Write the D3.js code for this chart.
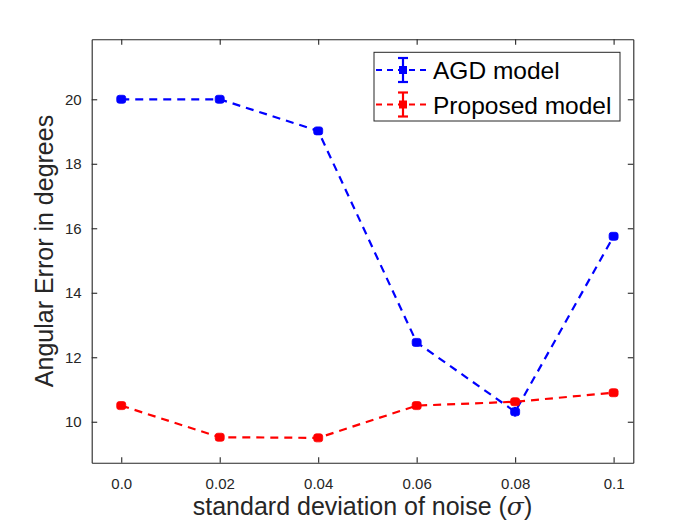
<!DOCTYPE html>
<html><head><meta charset="utf-8">
<script src="https://cdn.jsdelivr.net/npm/d3@7/dist/d3.min.js"></script>
<style>body{margin:0;background:#fff;} svg{display:block;}</style>
</head><body>
<script>
const noise = [0.0, 0.02, 0.04, 0.06, 0.08, 0.1];
const xTickLabels = ["0.0", "0.02", "0.04", "0.06", "0.08", "0.1"];
const yTicks = [10, 12, 14, 16, 18, 20];
const agd = [20.0, 20.0, 19.02, 12.46, 10.31, 15.75];
const agdErr = [0.05, 0.05, 0.05, 0.05, 0.15, 0.05];
const proposed = [10.5, 9.52, 9.5, 10.5, 10.62, 10.9];
const proposedErr = [0.05, 0.05, 0.05, 0.05, 0.05, 0.05];
const seriesNames = ["AGD model", "Proposed model"];
const seriesColors = ["#0000ff", "#ff0000"];

const W = 700, H = 525;
const m = {left: 91.7, right: 700 - 633.3, top: 39.3, bottom: 525 - 462.7};
const svg = d3.select("body").append("svg").attr("width", W).attr("height", H);
const x = d3.scaleLinear().domain([-0.006, 0.104]).range([m.left, W - m.right]);
const y = d3.scaleLinear().domain([8.73, 21.86]).range([H - m.bottom, m.top]);
const axisColor = "#262626";
const font = "'Liberation Sans', Arial, Helvetica, sans-serif";

// axes (ticks inward, mirrored box)
const tl = 5.5;
const gx = svg.append("g").attr("transform", `translate(0,${H - m.bottom})`)
  .call(d3.axisBottom(x).tickValues(noise).tickFormat((d, i) => xTickLabels[i]).tickSizeInner(-tl).tickSizeOuter(0).tickPadding(15.5));
const gxt = svg.append("g").attr("transform", `translate(0,${m.top})`)
  .call(d3.axisTop(x).tickValues(noise).tickFormat("").tickSizeInner(-tl).tickSizeOuter(0));
const gy = svg.append("g").attr("transform", `translate(${m.left},0)`)
  .call(d3.axisLeft(y).tickValues(yTicks).tickSizeInner(-tl).tickSizeOuter(0).tickPadding(10));
const gyr = svg.append("g").attr("transform", `translate(${W - m.right},0)`)
  .call(d3.axisRight(y).tickValues(yTicks).tickFormat("").tickSizeInner(-tl).tickSizeOuter(0));
[gx, gxt, gy, gyr].forEach(g => {
  g.attr("font-size", null).attr("font-family", null);
  g.select(".domain").attr("stroke", axisColor).attr("stroke-width", 1.1);
  g.selectAll(".tick line").attr("stroke", axisColor).attr("stroke-width", 1.1);
  g.selectAll(".tick text").attr("fill", axisColor).style("font-family", font).style("font-size", "15px");
});

// series
const series = [
  {vals: agd, err: agdErr},
  {vals: proposed, err: proposedErr}
];
const line = d3.line().x(d => x(d[0])).y(d => y(d[1]));
series.forEach((s, si) => {
  const pts = noise.map((n, i) => [n, s.vals[i], s.err[i]]);
  const col = seriesColors[si];
  const g = svg.append("g");
  g.append("path").datum(pts).attr("d", line).attr("fill", "none")
    .attr("stroke", col).attr("stroke-width", 2.2).attr("stroke-dasharray", "8,6");
  // error bars
  g.selectAll("line.err").data(pts).join("line")
    .attr("x1", d => x(d[0])).attr("x2", d => x(d[0]))
    .attr("y1", d => y(d[1] - d[2])).attr("y2", d => y(d[1] + d[2]))
    .attr("stroke", col).attr("stroke-width", 2.2);
  g.selectAll("rect.mk").data(pts).join("rect")
    .attr("x", d => x(d[0]) - 4.5).attr("y", d => y(d[1]) - 4)
    .attr("width", 9).attr("height", 8).attr("rx", 2.5)
    .attr("fill", col).attr("stroke", col).attr("stroke-width", 0.8);
});

// legend
const lg = svg.append("g");
lg.append("rect").attr("x", 374).attr("y", 52.3).attr("width", 246).attr("height", 68.7)
  .attr("fill", "#fff").attr("stroke", axisColor).attr("stroke-width", 1);
seriesNames.forEach((name, i) => {
  const cy = 70 + i * 34.5;
  const col = seriesColors[i];
  lg.append("line").attr("x1", 376).attr("x2", 431).attr("y1", cy).attr("y2", cy)
    .attr("stroke", col).attr("stroke-width", 2).attr("stroke-dasharray", "6,5");
  lg.append("line").attr("x1", 403).attr("x2", 403).attr("y1", cy - 12).attr("y2", cy + 12)
    .attr("stroke", col).attr("stroke-width", 2.2);
  [-12, 12].forEach(o => lg.append("line").attr("x1", 398).attr("x2", 408)
    .attr("y1", cy + o).attr("y2", cy + o).attr("stroke", col).attr("stroke-width", 2.2));
  lg.append("rect").attr("x", 399).attr("y", cy - 4).attr("width", 8).attr("height", 8)
    .attr("fill", col);
  lg.append("text").attr("x", 433).attr("y", cy + 9).text(name)
    .style("font-family", font).style("font-size", "24.5px").attr("fill", "#000");
});

// axis labels
const xl = svg.append("text").attr("x", (m.left + W - m.right) / 2).attr("y", 515)
  .attr("text-anchor", "middle").style("font-family", font).style("font-size", "25px").attr("fill", axisColor);
xl.append("tspan").text("standard deviation of noise (");
xl.append("tspan").text("σ").style("font-family", "'DejaVu Serif', 'Liberation Serif', serif").style("font-style", "italic");
xl.append("tspan").text(")");
svg.append("text").attr("transform", `translate(53,${(m.top + H - m.bottom) / 2}) rotate(-90)`)
  .attr("text-anchor", "middle").style("font-family", font).style("font-size", "25px").attr("fill", axisColor)
  .text("Angular Error in degrees");
</script>
</body></html>
